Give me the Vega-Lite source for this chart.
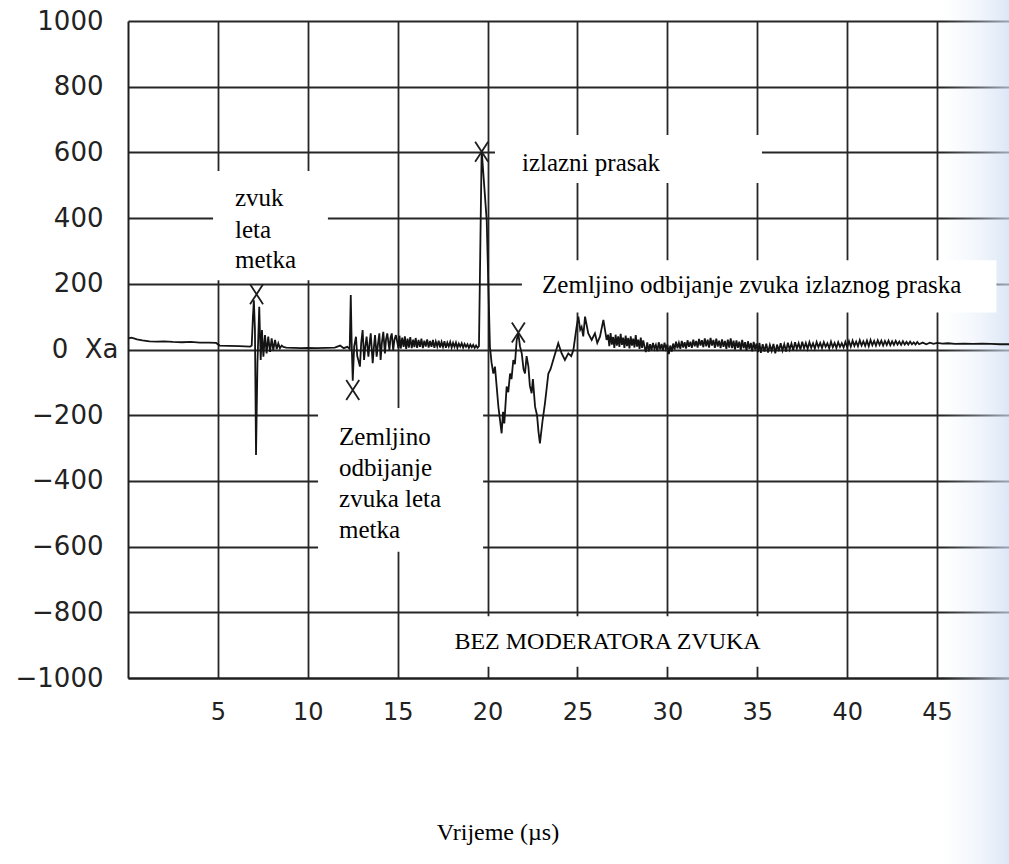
{
  "$schema": "https://vega.github.io/schema/vega-lite/v6.json",
  "width": 881,
  "height": 657,
  "autosize": {"type": "none"},
  "padding": {"left": 128, "top": 21, "right": 0, "bottom": 186},
  "background": "white",
  "config": {"view": {"stroke": null}},
  "datasets": {
    "sig": [
      {"t":0,"v":34},{"t":0.2,"v":36},{"t":0.5,"v":31},{"t":0.8,"v":28},{"t":1.2,"v":25},{"t":1.6,"v":24},{"t":2.0,"v":25},{"t":2.5,"v":23},{"t":3.0,"v":22},{"t":3.5,"v":23},{"t":4.0,"v":21},{"t":4.5,"v":21},{"t":4.9,"v":20},{"t":5.1,"v":12},{"t":5.6,"v":11},{"t":6.2,"v":10},{"t":6.8,"v":9},
      {"t":6.88,"v":12},{"t":6.95,"v":100},{"t":7.0,"v":150},{"t":7.06,"v":60},{"t":7.12,"v":-321},{"t":7.2,"v":-40},{"t":7.3,"v":130},{"t":7.38,"v":-32},{"t":7.45,"v":59},{"t":7.53,"v":-22},{"t":7.62,"v":44},{"t":7.71,"v":-12},{"t":7.8,"v":39},{"t":7.9,"v":-7},{"t":7.99,"v":34},{"t":8.08,"v":-2},{"t":8.18,"v":29},{"t":8.27,"v":1},{"t":8.36,"v":19},{"t":8.45,"v":4},{"t":8.55,"v":12},{"t":8.64,"v":8},{"t":8.8,"v":6},
      {"t":9.2,"v":5},{"t":9.6,"v":4},{"t":10.0,"v":5},{"t":10.5,"v":4},{"t":11.0,"v":5},{"t":11.5,"v":6},{"t":11.8,"v":12},{"t":12.0,"v":4},{"t":12.2,"v":8},{"t":12.33,"v":2},
      {"t":12.39,"v":166},{"t":12.44,"v":20},{"t":12.5,"v":-95},{"t":12.58,"v":10},{"t":12.68,"v":39},{"t":12.75,"v":-20},{"t":12.81,"v":-32},{"t":12.9,"v":-52},{"t":12.97,"v":20},{"t":13.05,"v":59},{"t":13.13,"v":-32},{"t":13.2,"v":10},{"t":13.27,"v":39},{"t":13.37,"v":-22},{"t":13.44,"v":20},{"t":13.5,"v":49},{"t":13.61,"v":-42},{"t":13.68,"v":10},{"t":13.74,"v":44},{"t":13.83,"v":-22},{"t":13.9,"v":15},{"t":13.98,"v":49},{"t":14.05,"v":-32},{"t":14.12,"v":20},{"t":14.2,"v":54},{"t":14.29,"v":-12},{"t":14.35,"v":30},{"t":14.42,"v":49},{"t":14.54,"v":-2},{"t":14.6,"v":35},{"t":14.67,"v":49},{"t":14.75,"v":-2},{"t":14.82,"v":30},{"t":14.9,"v":44},{"t":15.04,"v":4},
      {"t":15.1,"v":42},{"t":15.17,"v":3},{"t":15.25,"v":36},{"t":15.33,"v":8},{"t":15.4,"v":40},{"t":15.47,"v":2},{"t":15.55,"v":33},{"t":15.62,"v":6},{"t":15.7,"v":38},{"t":15.78,"v":4},{"t":15.86,"v":30},{"t":15.93,"v":7},{"t":16.0,"v":35},{"t":16.08,"v":5},{"t":16.16,"v":29},{"t":16.24,"v":8},{"t":16.32,"v":33},{"t":16.4,"v":4},{"t":16.48,"v":27},{"t":16.56,"v":9},{"t":16.64,"v":31},{"t":16.72,"v":6},{"t":16.8,"v":26},{"t":16.88,"v":8},{"t":16.96,"v":29},{"t":17.04,"v":5},{"t":17.12,"v":24},{"t":17.2,"v":9},{"t":17.28,"v":27},{"t":17.36,"v":6},{"t":17.44,"v":23},{"t":17.52,"v":8},{"t":17.6,"v":25},{"t":17.68,"v":5},{"t":17.76,"v":21},{"t":17.84,"v":9},{"t":17.92,"v":23},{"t":18.0,"v":6},{"t":18.08,"v":20},{"t":18.16,"v":8},{"t":18.24,"v":21},{"t":18.32,"v":5},{"t":18.4,"v":18},{"t":18.48,"v":9},{"t":18.56,"v":19},{"t":18.64,"v":6},{"t":18.72,"v":17},{"t":18.8,"v":8},{"t":18.88,"v":16},{"t":18.96,"v":5},{"t":19.04,"v":15},{"t":19.12,"v":7},{"t":19.2,"v":14},{"t":19.28,"v":5},{"t":19.36,"v":12},{"t":19.44,"v":5},
      {"t":19.52,"v":10},{"t":19.67,"v":607},{"t":19.95,"v":394},{"t":20.13,"v":9},{"t":20.22,"v":-40},{"t":20.32,"v":-73},{"t":20.41,"v":-52},{"t":20.6,"v":-174},{"t":20.78,"v":-255},{"t":20.86,"v":-190},{"t":20.93,"v":-225},{"t":21.06,"v":-113},{"t":21.15,"v":-130},{"t":21.25,"v":-73},{"t":21.33,"v":-90},{"t":21.43,"v":-32},{"t":21.52,"v":-45},{"t":21.62,"v":29},{"t":21.71,"v":49},{"t":21.8,"v":10},{"t":21.9,"v":-12},{"t":22.0,"v":-60},{"t":22.08,"v":-73},{"t":22.17,"v":-20},{"t":22.27,"v":-52},{"t":22.35,"v":-110},{"t":22.45,"v":-133},{"t":22.52,"v":-90},{"t":22.64,"v":-174},{"t":22.75,"v":-200},{"t":22.83,"v":-250},{"t":22.91,"v":-286},{"t":23.05,"v":-220},{"t":23.19,"v":-164},{"t":23.38,"v":-73},{"t":23.5,"v":-60},{"t":23.65,"v":-32},{"t":23.93,"v":19},{"t":24.12,"v":-12},{"t":24.3,"v":-32},{"t":24.49,"v":-12},{"t":24.65,"v":-20},{"t":24.77,"v":-2},{"t":24.95,"v":69},{"t":25.05,"v":100},{"t":25.15,"v":60},{"t":25.23,"v":69},{"t":25.32,"v":40},{"t":25.42,"v":100},{"t":25.6,"v":49},{"t":25.79,"v":29},{"t":25.97,"v":49},{"t":26.1,"v":20},{"t":26.25,"v":39},{"t":26.44,"v":90},{"t":26.62,"v":29},
      {"t":26.7,"v":45},{"t":26.77,"v":10},{"t":26.84,"v":50},{"t":26.91,"v":15},{"t":26.98,"v":38},{"t":27.05,"v":5},{"t":27.12,"v":45},{"t":27.19,"v":12},{"t":27.26,"v":40},{"t":27.33,"v":8},{"t":27.4,"v":48},{"t":27.47,"v":14},{"t":27.54,"v":36},{"t":27.61,"v":5},{"t":27.68,"v":42},{"t":27.75,"v":10},{"t":27.82,"v":35},{"t":27.89,"v":3},{"t":27.96,"v":40},{"t":28.03,"v":12},{"t":28.1,"v":33},{"t":28.17,"v":6},{"t":28.24,"v":44},{"t":28.31,"v":9},{"t":28.38,"v":30},{"t":28.45,"v":2},{"t":28.52,"v":36},{"t":28.59,"v":5},{"t":28.66,"v":28},{"t":28.73,"v":8},{"t":28.8,"v":-8},
      {"t":28.88,"v":22},{"t":28.96,"v":-6},{"t":29.04,"v":16},{"t":29.12,"v":-2},{"t":29.2,"v":20},{"t":29.28,"v":2},{"t":29.36,"v":14},{"t":29.44,"v":-5},{"t":29.52,"v":22},{"t":29.6,"v":0},{"t":29.68,"v":17},{"t":29.76,"v":-3},{"t":29.84,"v":21},{"t":29.92,"v":2},{"t":30.0,"v":15},{"t":30.08,"v":-14},{"t":30.16,"v":12},{"t":30.24,"v":-6},{"t":30.32,"v":18},{"t":30.4,"v":0},{"t":30.48,"v":24},{"t":30.56,"v":4},{"t":30.64,"v":20},{"t":30.72,"v":2},{"t":30.8,"v":26},{"t":30.88,"v":6},{"t":30.96,"v":22},{"t":31.04,"v":3},{"t":31.12,"v":28},{"t":31.2,"v":8},{"t":31.28,"v":24},{"t":31.36,"v":5},{"t":31.44,"v":30},{"t":31.52,"v":10},{"t":31.6,"v":26},{"t":31.68,"v":6},{"t":31.76,"v":32},{"t":31.84,"v":12},{"t":31.92,"v":28},{"t":32.0,"v":7},{"t":32.08,"v":34},{"t":32.16,"v":10},{"t":32.24,"v":30},{"t":32.32,"v":6},{"t":32.4,"v":35},{"t":32.48,"v":12},{"t":32.56,"v":29},{"t":32.64,"v":5},{"t":32.72,"v":33},{"t":32.8,"v":9},{"t":32.88,"v":27},{"t":32.96,"v":4},{"t":33.04,"v":31},{"t":33.12,"v":8},{"t":33.2,"v":26},{"t":33.28,"v":2},{"t":33.36,"v":30},{"t":33.44,"v":6},{"t":33.52,"v":34},{"t":33.6,"v":4},{"t":33.68,"v":27},{"t":33.76,"v":0},{"t":33.84,"v":28},{"t":33.92,"v":5},{"t":34.0,"v":24},{"t":34.08,"v":-2},{"t":34.16,"v":29},{"t":34.24,"v":4},{"t":34.32,"v":22},{"t":34.4,"v":-4},{"t":34.48,"v":25},{"t":34.56,"v":2},{"t":34.64,"v":20},{"t":34.72,"v":-6},{"t":34.8,"v":23},{"t":34.88,"v":0},{"t":34.96,"v":18},{"t":35.04,"v":-8},{"t":35.12,"v":20},{"t":35.2,"v":-10},{"t":35.3,"v":16},{"t":35.4,"v":-6},{"t":35.5,"v":18},{"t":35.6,"v":-9},{"t":35.7,"v":14},{"t":35.8,"v":-4},{"t":35.9,"v":17},{"t":36.0,"v":-12},{"t":36.1,"v":15},{"t":36.2,"v":-5},{"t":36.3,"v":19},{"t":36.4,"v":-3},{"t":36.5,"v":16},{"t":36.6,"v":-6},{"t":36.7,"v":21},{"t":36.8,"v":0},{"t":36.9,"v":18},{"t":37.0,"v":-2},{"t":37.1,"v":22},{"t":37.2,"v":3},{"t":37.3,"v":19},{"t":37.4,"v":0},{"t":37.5,"v":24},{"t":37.6,"v":4},{"t":37.7,"v":20},{"t":37.8,"v":2},{"t":37.9,"v":22},{"t":38.0,"v":5},{"t":38.1,"v":19},{"t":38.2,"v":3},{"t":38.3,"v":23},{"t":38.4,"v":7},{"t":38.5,"v":20},{"t":38.6,"v":5},{"t":38.7,"v":22},{"t":38.8,"v":8},{"t":38.9,"v":19},{"t":39.0,"v":4},{"t":39.1,"v":24},{"t":39.2,"v":7},{"t":39.3,"v":20},{"t":39.4,"v":5},{"t":39.5,"v":22},{"t":39.6,"v":8},{"t":39.7,"v":19},{"t":39.8,"v":6},{"t":39.9,"v":23},{"t":40.0,"v":7},{"t":40.1,"v":25},{"t":40.2,"v":9},{"t":40.3,"v":27},{"t":40.4,"v":11},{"t":40.5,"v":24},{"t":40.6,"v":10},{"t":40.7,"v":28},{"t":40.8,"v":12},{"t":40.9,"v":25},{"t":41.0,"v":11},{"t":41.1,"v":27},{"t":41.2,"v":10},{"t":41.3,"v":29},{"t":41.4,"v":13},{"t":41.5,"v":26},{"t":41.6,"v":12},{"t":41.7,"v":28},{"t":41.8,"v":14},{"t":41.9,"v":27},{"t":42.0,"v":12},{"t":42.1,"v":26},{"t":42.2,"v":14},{"t":42.3,"v":27},{"t":42.4,"v":13},{"t":42.5,"v":25},{"t":42.6,"v":14},{"t":42.7,"v":26},{"t":42.8,"v":15},{"t":42.9,"v":24},{"t":43.0,"v":14},{"t":43.1,"v":25},{"t":43.2,"v":15},{"t":43.3,"v":23},{"t":43.4,"v":15},{"t":43.5,"v":24},{"t":43.6,"v":16},{"t":43.7,"v":22},{"t":43.8,"v":15},{"t":43.9,"v":23},{"t":44.0,"v":16},{"t":44.2,"v":21},{"t":44.4,"v":16},{"t":44.6,"v":21},{"t":44.8,"v":17},{"t":45.0,"v":20},{"t":45.3,"v":18},{"t":45.6,"v":19},{"t":46.0,"v":17},{"t":46.5,"v":18},{"t":47.0,"v":17},{"t":47.5,"v":18},{"t":48.0,"v":17},{"t":48.5,"v":16},{"t":49.0,"v":16}
    ],
    "boxes": [
      {"x1":4.73,"x2":11.12,"y1":211,"y2":543},
      {"x1":20.41,"x2":35.26,"y1":507,"y2":653},
      {"x1":21.91,"x2":48.3,"y1":113,"y2":272},
      {"x1":10.57,"x2":19.75,"y1":-616,"y2":-178},
      {"x1":17.2,"x2":36.1,"y1":-966,"y2":-812}
    ],
    "marks": [
      {"t":7.15,"v":168},{"t":12.5,"v":-123},{"t":19.67,"v":602},{"t":21.71,"v":52}
    ],
    "notes": [
      {"t":5.95,"v":461,"label":"zvuk"},
      {"t":5.95,"v":364,"label":"leta"},
      {"t":5.95,"v":272,"label":"metka"},
      {"t":21.91,"v":568,"label":"izlazni prasak"},
      {"t":23.03,"v":197,"label":"Zemljino odbijanje zvuka izlaznog praska"},
      {"t":11.74,"v":-266,"label":"Zemljino"},
      {"t":11.74,"v":-361,"label":"odbijanje"},
      {"t":11.74,"v":-455,"label":"zvuka leta"},
      {"t":11.74,"v":-550,"label":"metka"}
    ],
    "caption": [
      {"t":26.67,"v":-890,"label":"BEZ MODERATORA ZVUKA"}
    ],
    "tint": [
      {"x1":45.3,"x2":49,"y1":-1570,"y2":1070}
    ]
  },
  "layer": [
    {
      "data": {"name": "tint"},
      "mark": {"type": "rect", "stroke": null, "clip": false,
        "fill": {"gradient": "linear", "x1": 0, "y1": 0, "x2": 1, "y2": 0,
          "stops": [{"offset": 0, "color": "rgba(220,231,247,0)"}, {"offset": 0.55, "color": "rgba(216,228,246,0.35)"}, {"offset": 1, "color": "rgba(205,220,242,0.7)"}]}},
      "encoding": {
        "x": {"field": "x1", "type": "quantitative", "scale": {"domain": [0, 49], "nice": false, "zero": false},
          "axis": {"values": [5,10,15,20,25,30,35,40,45], "grid": true, "ticks": false, "domain": true,
            "domainColor": "#1e1e1e", "domainWidth": 2, "gridColor": "#262626", "gridWidth": 1.8, "gridOpacity": 1,
            "labelFont": "DejaVu Sans", "labelFontSize": 24, "labelColor": "#222222", "labelPadding": 22,
            "title": "Vrijeme (µs)", "titleFont": "Liberation Serif", "titleFontSize": 24, "titleFontWeight": "normal",
            "titleColor": "#000000", "titleX": 369.5, "titleY": 154, "titleAlign": "center", "titleBaseline": "middle", "titleAnchor": "start"}},
        "x2": {"field": "x2"},
        "y": {"field": "y1", "type": "quantitative", "scale": {"domain": [-1000, 1000], "nice": false},
          "axis": {"values": [-1000,-800,-600,-400,-200,0,200,400,600,800,1000], "grid": true, "ticks": false, "domain": true,
            "domainColor": "#1e1e1e", "domainWidth": 2, "gridColor": "#262626", "gridWidth": 1.8, "gridOpacity": 1,
            "labelFont": "DejaVu Sans", "labelFontSize": 26, "labelColor": "#222222", "format": "d",
            "labelPadding": {"condition": {"test": "datum.value == 0", "value": 10}, "value": 25},
            "labelExpr": "datum.value == 0 ? '0 \u00a0Xa' : datum.label", "title": null}},
        "y2": {"field": "y2"}
      }
    },
    {
      "data": {"name": "boxes"},
      "mark": {"type": "rect", "fill": "white", "stroke": null},
      "encoding": {
        "x": {"field": "x1", "type": "quantitative"},
        "x2": {"field": "x2"},
        "y": {"field": "y1", "type": "quantitative"},
        "y2": {"field": "y2"}
      }
    },
    {
      "data": {"name": "sig"},
      "mark": {"type": "line", "color": "#141414", "strokeWidth": 1.8},
      "encoding": {
        "x": {"field": "t", "type": "quantitative"},
        "y": {"field": "v", "type": "quantitative"}
      }
    },
    {
      "data": {"name": "marks"},
      "mark": {"type": "point", "shape": "M-0.65,-1L0.65,1M-0.65,1L0.65,-1", "size": 400, "filled": false, "stroke": "#1e1e1e", "strokeWidth": 1.8, "opacity": 1},
      "encoding": {
        "x": {"field": "t", "type": "quantitative"},
        "y": {"field": "v", "type": "quantitative"}
      }
    },
    {
      "data": {"name": "notes"},
      "mark": {"type": "text", "font": "Liberation Serif", "fontSize": 25, "color": "#000000", "align": "left", "baseline": "middle"},
      "encoding": {
        "x": {"field": "t", "type": "quantitative"},
        "y": {"field": "v", "type": "quantitative"},
        "text": {"field": "label"}
      }
    },
    {
      "data": {"name": "caption"},
      "mark": {"type": "text", "font": "Liberation Serif", "fontSize": 24, "color": "#000000", "align": "center", "baseline": "middle"},
      "encoding": {
        "x": {"field": "t", "type": "quantitative"},
        "y": {"field": "v", "type": "quantitative"},
        "text": {"field": "label"}
      }
    }
  ]
}
